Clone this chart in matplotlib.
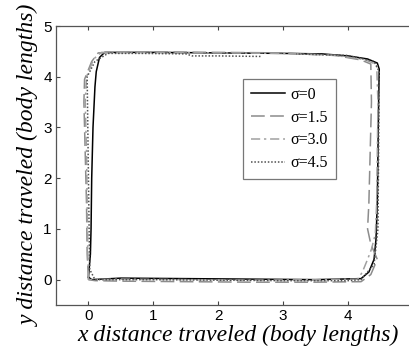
import matplotlib.pyplot as plt

# trajectories (body lengths)
x0 = [0.0, 0.03, 0.04, 0.05, 0.07, 0.1, 0.12, 0.17, 0.25, 1.0, 2.0, 3.0, 3.6, 4.0, 4.3, 4.45, 4.48,
      4.47, 4.46, 4.45, 4.43, 4.4, 4.32, 4.2, 3.5, 2.5, 1.5, 0.5, 0.05, 0.0]
y0 = [0.05, 0.5, 1.0, 2.0, 3.0, 3.8, 4.1, 4.38, 4.48, 4.48, 4.47, 4.46, 4.45, 4.41, 4.35, 4.27, 4.15,
      3.5, 2.5, 1.5, 0.8, 0.4, 0.15, 0.02, 0.0, 0.01, 0.02, 0.03, 0.0, 0.05]

x1 = [0.0, -0.02, -0.03, -0.05, -0.07, -0.06, 0.05, 0.15, 1.0, 2.0, 3.0, 3.8, 4.2, 4.35, 4.36,
      4.34, 4.32, 4.3, 4.35, 4.45, 4.35, 4.2, 3.5, 2.5, 1.5, 0.5, 0.1, 0.0]
y1 = [0.0, 0.5, 1.5, 2.5, 3.5, 3.95, 4.3, 4.47, 4.49, 4.48, 4.47, 4.42, 4.33, 4.25, 3.5,
      2.5, 1.5, 1.0, 0.7, 0.4, 0.1, -0.04, -0.05, -0.05, -0.04, -0.03, -0.02, 0.0]

x2 = [0.0, -0.01, -0.02, -0.03, -0.05, -0.03, 0.08, 0.2, 1.0, 2.0, 3.0, 3.8, 4.25, 4.44, 4.46,
      4.45, 4.44, 4.42, 4.36, 4.3, 4.22, 4.15, 3.5, 2.5, 1.5, 0.5, 0.0]
y2 = [0.0, 0.5, 1.5, 2.5, 3.5, 4.0, 4.35, 4.48, 4.48, 4.47, 4.46, 4.42, 4.34, 4.24, 3.5,
      2.5, 1.5, 0.9, 0.6, 0.4, 0.15, 0.01, 0.0, -0.01, 0.0, 0.01, 0.0]

x3 = [2.65, 2.0, 1.6, 1.5, 0.8, 0.3, 0.1, -0.02, -0.01, 0.0, 0.01, 0.02, 0.1, 1.0, 2.0, 3.0, 4.0,
      4.2, 4.4, 4.46, 4.47, 4.48, 4.4, 4.0, 3.2]
y3 = [4.4, 4.41, 4.41, 4.45, 4.46, 4.46, 4.3, 4.0, 3.0, 2.0, 1.0, 0.2, 0.0, 0.0, -0.01, -0.02, -0.02,
      0.0, 0.3, 1.0, 2.5, 4.1, 4.3, 4.42, 4.45]

labels = ['σ=0', 'σ=1.5', 'σ=3.0', 'σ=4.5']
xticks = [0, 1, 2, 3, 4, 5]
yticks = [0, 1, 2, 3, 4, 5]

fig = plt.figure(figsize=(4.1, 3.53), dpi=100)
ax = fig.add_axes([56 / 410, 48 / 353, 357 / 410, 279 / 353])

ax.plot(x0, y0, color='black', lw=1.1, label=labels[0])
ax.plot(x1, y1, color='#8c8c8c', lw=1.1, dashes=(9, 3.5), label=labels[1])
ax.plot(x2, y2, color='#a0a0a0', lw=1.1, dashes=(6, 2.5, 1.5, 2.5), label=labels[2])
ax.plot(x3, y3, color='#505050', lw=1.1, dashes=(1, 1.2), label=labels[3])

ax.set_xlim(-0.5, 5)
ax.set_ylim(-0.5, 5)
ax.set_xticks(xticks)
ax.set_yticks(yticks)
ax.tick_params(direction='in', top=True, right=True, length=3, width=0.8,
               labelsize=11, color='#444444', pad=3)
for lab in ax.get_xticklabels() + ax.get_yticklabels():
    lab.set_family('Liberation Sans')
for s in ax.spines.values():
    s.set_color('#555555')
    s.set_linewidth(0.9)

ax.set_xlabel('x distance traveled (body lengths)', family='Liberation Serif',
              style='italic', fontsize=17)
ax.set_ylabel('y distance traveled (body lengths)', family='Liberation Serif',
              style='italic', fontsize=17)
ax.xaxis.set_label_coords(0.51, -0.07)
ax.yaxis.set_label_coords(-0.045, 0.5)

leg = ax.legend(loc='upper left', bbox_to_anchor=(0.524, 0.81), fancybox=False,
                prop={'family': 'Liberation Serif', 'size': 11.5},
                handlelength=2.1, handletextpad=0.35, labelspacing=0.42,
                borderpad=0.5, borderaxespad=0)
leg.get_frame().set_edgecolor('#555555')
leg.get_frame().set_linewidth(0.9)

fig.savefig('out.png', dpi=100)
